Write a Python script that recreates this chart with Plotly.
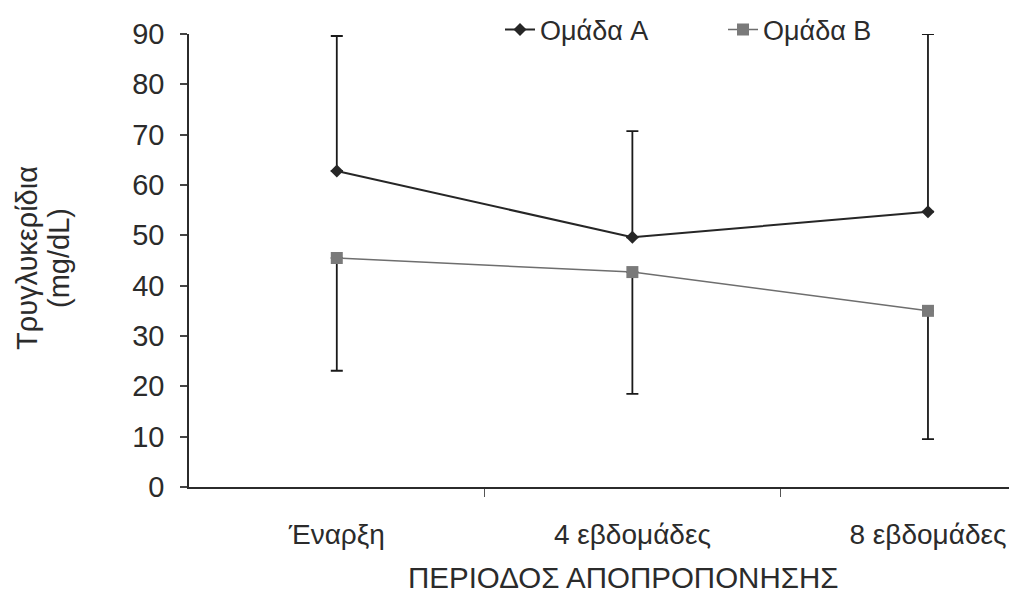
import plotly.graph_objects as go

categories = ["Έναρξη", "4 εβδομάδες", "8 εβδομάδες"]
group_a = [62.8, 49.6, 54.7]
group_a_err_up = [26.8, 21.1, 35.3]
group_b = [45.5, 42.7, 35.0]
group_b_err_down = [22.4, 24.2, 25.5]
y_ticks = [0, 10, 20, 30, 40, 50, 60, 70, 80, 90]

# page body has an 8px margin: work in figure coordinates (reference px - 8)
OFF = 8
W, H = 1017 - OFF, 596 - OFF
L, T = 189 - OFF, 34 - OFF
R = 1017 - 1012
ph = 453
B = H - T - ph
pw = W - L - R

FONT = "Liberation Sans, Arial, sans-serif"
TXT = "#2b2b2b"
xpos = list(range(len(categories)))
CAT_STEP = 295.5  # reference px per category

def px_x(ref_px):
    return (ref_px - OFF - L) / pw

def px_y(ref_px):
    return (T + ph - (ref_px - OFF)) / ph

fig = go.Figure()
fig.add_trace(go.Scatter(
    x=xpos, y=group_a, mode="lines+markers", name="Ομάδα A",
    line=dict(color="#262626", width=2),
    marker=dict(symbol="diamond", size=10, color="#262626"),
    error_y=dict(type="data", symmetric=False, array=group_a_err_up,
                 arrayminus=[0] * len(group_a), color="#1a1a1a",
                 thickness=1.8, width=6),
    cliponaxis=False,
))
fig.add_trace(go.Scatter(
    x=xpos, y=group_b, mode="lines+markers", name="Ομάδα B",
    line=dict(color="#6e6e6e", width=1.5),
    marker=dict(symbol="square", size=12, color="#7a7a7a"),
    error_y=dict(type="data", symmetric=False, array=[0] * len(group_b),
                 arrayminus=group_b_err_down, color="#1a1a1a",
                 thickness=1.8, width=6),
    cliponaxis=False,
))

fig.update_layout(
    width=W, height=H,
    margin=dict(l=L, r=R, t=T, b=B, autoexpand=False),
    paper_bgcolor="white", plot_bgcolor="white",
    font=dict(family=FONT, size=28, color=TXT),
    showlegend=True,
    legend=dict(orientation="h", x=px_x(500), xanchor="left",
                y=px_y(30), yanchor="middle",
                font=dict(size=27, color=TXT),
                bgcolor="rgba(0,0,0,0)", entrywidth=178,
                tracegroupgap=0),
    xaxis=dict(
        range=[-0.5, (1012 - 337) / CAT_STEP],
        tickmode="array", tickvals=xpos, ticktext=categories,
        ticks="", showgrid=False, zeroline=False,
        showline=True, linecolor="#2b2b2b", linewidth=1.5,
        ticklabelstandoff=22,
        tickfont=dict(size=28, color=TXT),
        minor=dict(tickvals=[0.5, 1.5], ticks="outside", ticklen=8,
                   tickcolor="#555", tickwidth=1, showgrid=False),
    ),
    yaxis=dict(
        range=[0, 90], tickmode="array", tickvals=y_ticks,
        ticks="outside", ticklen=7, tickcolor="#444", tickwidth=1.5,
        showgrid=False, zeroline=False,
        showline=True, linecolor="#2b2b2b", linewidth=1.5,
        ticklabelstandoff=10,
        tickfont=dict(size=29, color=TXT),
    ),
    annotations=[
        dict(text="Τρυγλυκερίδια", textangle=-90,
             xref="paper", yref="paper",
             x=px_x(27), y=px_y(258), xanchor="center", yanchor="middle",
             showarrow=False, font=dict(size=29, color=TXT)),
        dict(text="(mg/dL)", textangle=-90,
             xref="paper", yref="paper",
             x=px_x(59), y=px_y(258), xanchor="center", yanchor="middle",
             showarrow=False, font=dict(size=29, color=TXT)),
        dict(text="ΠΕΡΙΟΔΟΣ ΑΠΟΠΡΟΠΟΝΗΣΗΣ",
             xref="paper", yref="paper",
             x=px_x(623), y=px_y(577),
             xanchor="center", yanchor="middle",
             showarrow=False, font=dict(size=29.5, color=TXT)),
    ],
)

fig.write_html("out.html")
